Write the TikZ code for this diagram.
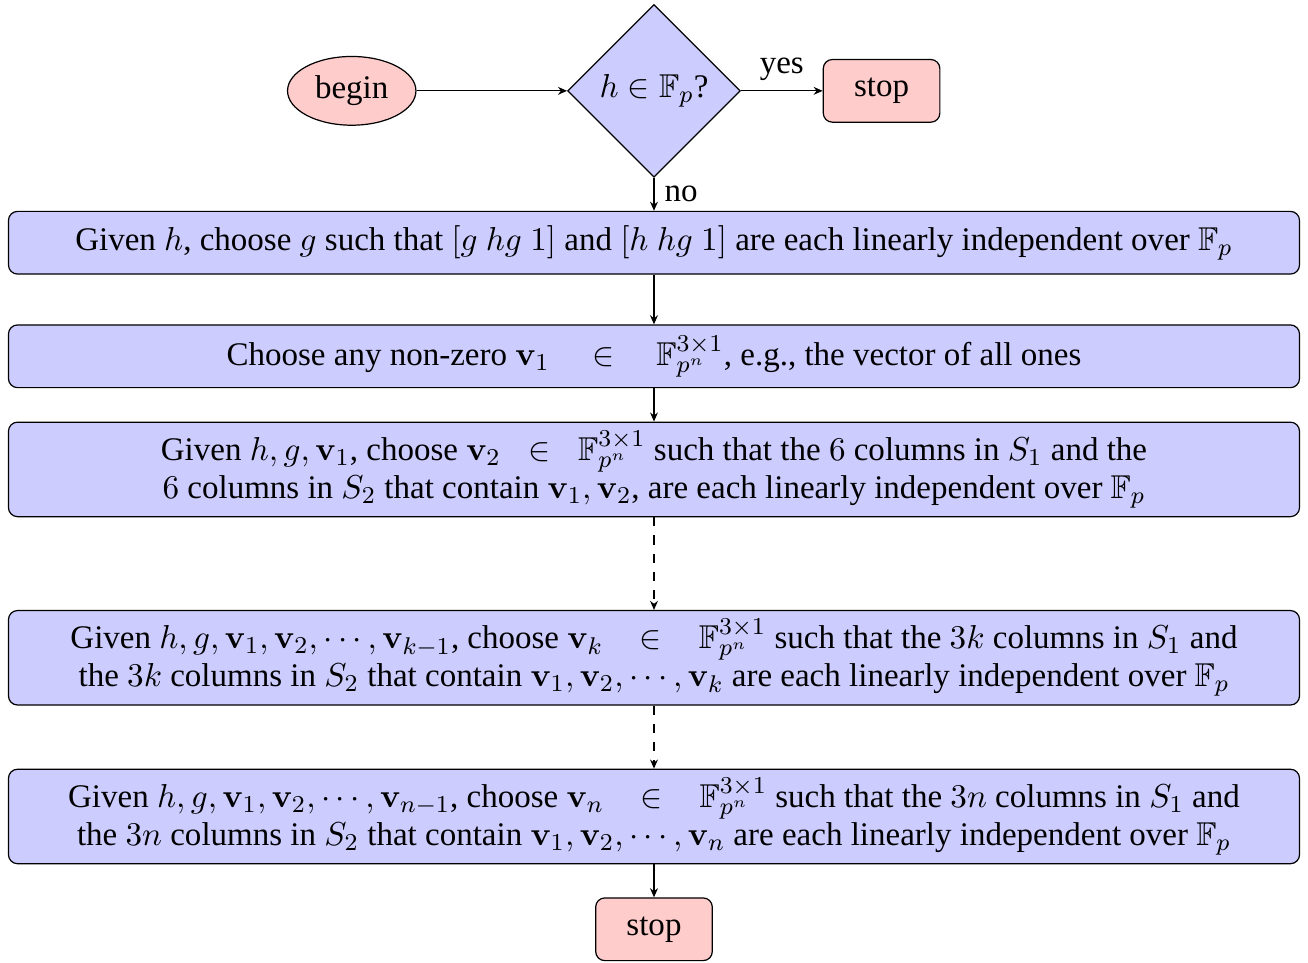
\documentclass[tikz,border=0pt]{standalone}
\usepackage[no-math]{fontspec}
\setmainfont{Liberation Serif}
\usepackage{amssymb}
\usepackage{xcolor}
\usepackage{tikz}
\usetikzlibrary{arrows.meta,positioning,shapes.geometric,calc}

\begin{document}
\begin{tikzpicture}[font=\fontsize{10.9}{12.6}\selectfont,
  startst/.style={draw,ellipse,fill=red!20,minimum width=42.4pt,minimum height=22.7pt,inner sep=1pt},
  stopst/.style={draw,rounded corners=3pt,fill=red!20,minimum width=38.5pt,minimum height=20.7pt},
  decst/.style={draw,diamond,fill=blue!20,minimum size=57pt,inner sep=0pt},
  procst/.style={draw,rounded corners=3pt,fill=blue!20,align=center,minimum width=426.3pt,minimum height=20.7pt,inner ysep=2pt},
  procsttwo/.style={procst,minimum height=31.2pt},
  arr/.style={-{Stealth[length=3pt,width=2.6pt]}},
  darr/.style={arr,dashed}]
\node[decst] (dia) {$h\in\mathbb{F}_p$?};
\node[startst,left=49.7pt of dia] (begin) {begin};
\node[stopst,right=27pt of dia] (stopa) {stop};
\node[procst,below=10.9pt of dia] (pa) {Given $h$, choose $g$ such that $[g~hg~1]$ and $[h~hg~1]$ are each linearly independent over $\mathbb{F}_p$};
\node[procst,below=16.4pt of pa] (pb) {Choose any non-zero $\mathbf{v}_1\quad\in\quad\mathbb{F}_{p^n}^{3\times1}$, e.g., the vector of all ones};
\node[procsttwo,below=11pt of pb] (pc) {Given $h,g,\mathbf{v}_1$, choose $\mathbf{v}_2\;\;\in\;\;\mathbb{F}_{p^n}^{3\times1}$ such that the $6$ columns in $S_1$ and the\\
  $6$ columns in $S_2$ that contain $\mathbf{v}_1,\mathbf{v}_2$, are each linearly independent over $\mathbb{F}_p$};
\node[procsttwo,below=30.6pt of pc] (pk) {Given $h,g,\mathbf{v}_1,\mathbf{v}_2,\cdots,\mathbf{v}_{k-1}$, choose $\mathbf{v}_k\;\;\;\in\;\;\;\mathbb{F}_{p^n}^{3\times1}$ such that the $3k$ columns in $S_1$ and\\
  the $3k$ columns in $S_2$ that contain $\mathbf{v}_1,\mathbf{v}_2,\cdots,\mathbf{v}_k$ are each linearly independent over $\mathbb{F}_p$};
\node[procsttwo,below=20.8pt of pk] (pn) {Given $h,g,\mathbf{v}_1,\mathbf{v}_2,\cdots,\mathbf{v}_{n-1}$, choose $\mathbf{v}_n\;\;\;\in\;\;\;\mathbb{F}_{p^n}^{3\times1}$ such that the $3n$ columns in $S_1$ and\\
  the $3n$ columns in $S_2$ that contain $\mathbf{v}_1,\mathbf{v}_2,\cdots,\mathbf{v}_n$ are each linearly independent over $\mathbb{F}_p$};
\node[stopst,below=10.9pt of pn] (stopb) {stop};
\draw[arr] (begin) -- (dia);
\draw[arr] (dia) -- node[above]{yes} (stopa);
\draw[arr] (dia) -- node[right]{no} (pa);
\draw[arr] (pa) -- (pb);
\draw[arr] (pb) -- (pc);
\draw[darr] (pc) -- (pk);
\draw[darr] (pk) -- (pn);
\draw[arr] (pn) -- (stopb);
\pgfresetboundingbox
\path[use as bounding box] ($(pa.west |- dia.north)+(-2.6pt,1.3pt)$) rectangle ($(pa.east |- stopb.south)+(2.6pt,-0.3pt)$);
\end{tikzpicture}
\end{document}
